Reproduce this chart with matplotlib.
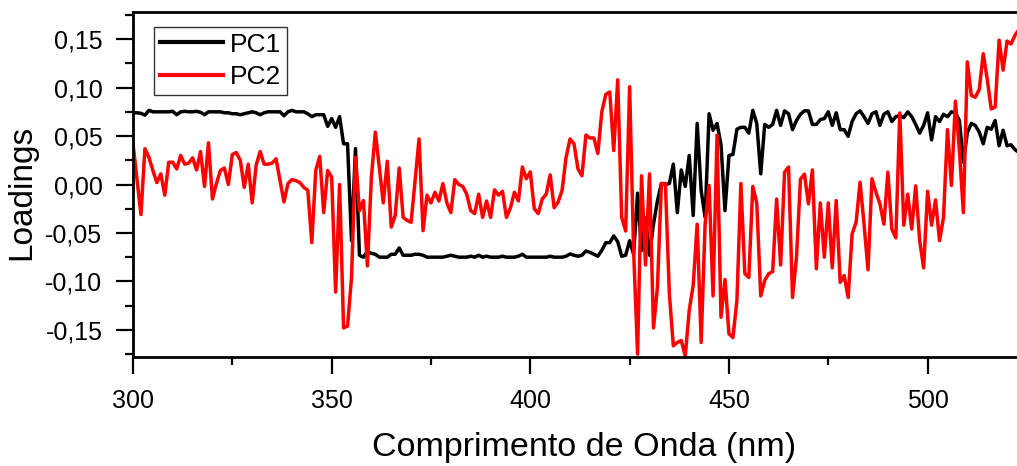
import numpy as np
import matplotlib
matplotlib.use("Agg")
import matplotlib.pyplot as plt
from matplotlib.ticker import MultipleLocator, FuncFormatter

plt.rcParams['font.family'] = ['Liberation Sans', 'DejaVu Sans']

wavelength = np.arange(300, 524)

pc1 = [
    0.074, 0.074, 0.0735, 0.0715, 0.0765, 0.075, 0.075, 0.075, 0.075, 0.075,   # 300-309
    0.0755, 0.072, 0.075, 0.0755, 0.075, 0.075, 0.0755, 0.0745, 0.072, 0.075,  # 310-319
    0.075, 0.075, 0.075, 0.074, 0.074, 0.073, 0.073, 0.072, 0.073, 0.074,      # 320-329
    0.075, 0.074, 0.072, 0.074, 0.075, 0.075, 0.075, 0.075, 0.071, 0.075,      # 330-339
    0.0765, 0.075, 0.075, 0.075, 0.073, 0.070, 0.072, 0.072, 0.072, 0.060,     # 340-349
    0.068, 0.059, 0.070, 0.042, 0.042, -0.058, 0.037, -0.073, -0.075, -0.069,  # 350-359
    -0.071, -0.072, -0.075, -0.075, -0.075, -0.072, -0.072, -0.0655, -0.073, -0.073,  # 360-369
    -0.073, -0.072, -0.072, -0.073, -0.075, -0.075, -0.075, -0.075, -0.075, -0.074,   # 370-379
    -0.073, -0.074, -0.075, -0.075, -0.075, -0.074, -0.075, -0.073, -0.075, -0.074,   # 380-389
    -0.075, -0.075, -0.075, -0.074, -0.075, -0.075, -0.075, -0.074, -0.072, -0.075,   # 390-399
    -0.075, -0.075, -0.075, -0.075, -0.075, -0.074, -0.075, -0.075, -0.075, -0.074,   # 400-409
    -0.0717, -0.073, -0.074, -0.073, -0.0686, -0.070, -0.072, -0.074, -0.068, -0.060, # 410-419
    -0.060, -0.053, -0.059, -0.074, -0.073, -0.058, -0.072, -0.009, -0.068, -0.034,   # 420-429
    -0.073, -0.041, -0.017, 0.001, 0.000, 0.001, 0.021, -0.029, 0.015, -0.002,        # 430-439
    0.030, -0.032, 0.063, -0.006, -0.034, 0.073, 0.056, 0.063, 0.041, -0.027,         # 440-449
    0.030, 0.031, 0.057, 0.059, 0.059, 0.053, 0.0765, 0.063, 0.011, 0.062,            # 450-459
    0.059, 0.062, 0.0765, 0.061, 0.076, 0.073, 0.0566, 0.066, 0.0725, 0.076,          # 460-469
    0.076, 0.062, 0.062, 0.067, 0.068, 0.075, 0.061, 0.074, 0.0566, 0.0566,           # 470-479
    0.0497, 0.065, 0.073, 0.076, 0.070, 0.063, 0.073, 0.075, 0.061, 0.0725,           # 480-489
    0.075, 0.065, 0.070, 0.071, 0.069, 0.075, 0.070, 0.062, 0.053, 0.061,             # 490-499
    0.074, 0.046, 0.070, 0.065, 0.0725, 0.070, 0.075, 0.074, 0.066, 0.023,            # 500-509
    0.0535, 0.063, 0.061, 0.054, 0.042, 0.059, 0.057, 0.066, 0.040, 0.056,            # 510-519
    0.040, 0.041, 0.036, 0.033,                                                       # 520-523
]

pc2 = [
    0.042, 0.005, -0.031, 0.037, 0.028, 0.0145, 0.002, 0.011, -0.011, 0.023,    # 300-309
    0.023, 0.016, 0.030, 0.021, 0.022, 0.0275, 0.015, 0.034, -0.002, 0.043,     # 310-319
    -0.015, 0.001, 0.0145, 0.017, 0.000, 0.031, 0.033, 0.025, -0.003, 0.021,    # 320-329
    -0.019, 0.020, 0.034, 0.021, 0.021, 0.022, 0.0265, 0.004, -0.018, 0.001,    # 330-339
    0.005, 0.004, 0.002, -0.003, -0.006, -0.060, 0.0145, 0.029, -0.029, 0.0145, # 340-349
    0.0076, -0.111, 0.000, -0.148, -0.146, -0.096, 0.028, -0.027, -0.0166, -0.084,  # 350-359
    0.0076, 0.054, 0.018, -0.019, 0.024, -0.044, -0.032, 0.017, -0.034, -0.037,     # 360-369
    -0.039, 0.004, 0.047, -0.0476, -0.011, -0.019, -0.008, -0.017, 0.001, -0.019,   # 370-379
    -0.029, 0.005, 0.000, -0.002, -0.010, -0.027, -0.030, -0.010, -0.034, -0.017,   # 380-389
    -0.034, -0.0055, -0.011, -0.007, -0.034, -0.024, -0.008, -0.017, 0.018, 0.006,  # 390-399
    0.013, -0.025, -0.030, -0.015, -0.010, 0.010, -0.024, -0.018, -0.006, 0.028,    # 400-409
    0.047, 0.042, 0.016, 0.009, 0.051, 0.048, 0.048, 0.032, 0.075, 0.093,          # 410-419
    0.0955, 0.035, 0.108, -0.034, -0.048, 0.101, -0.068, -0.175, 0.009, -0.083,     # 420-429
    0.011, -0.148, -0.106, 0.001, 0.001, -0.113, -0.1665, -0.163, -0.161, -0.177,   # 430-439
    -0.130, -0.104, -0.041, -0.163, -0.041, -0.001, -0.115, 0.051, -0.137, -0.098,  # 440-449
    -0.154, -0.158, -0.120, 0.001, -0.092, -0.096, -0.002, -0.019, -0.115, -0.099,  # 450-459
    -0.092, -0.090, -0.015, -0.083, 0.0127, 0.018, -0.1166, -0.075, 0.0055, 0.0107, # 460-469
    -0.020, 0.015, -0.087, -0.019, -0.075, -0.019, -0.086, -0.0166, -0.101, -0.094, # 470-479
    -0.1166, -0.051, -0.039, 0.0024, -0.041, -0.088, 0.006, -0.008, -0.020, -0.041, # 480-489
    0.0127, -0.046, -0.055, 0.0738, -0.042, -0.010, -0.046, -0.0014, -0.058, -0.086,# 490-499
    -0.007, -0.042, -0.016, -0.058, -0.034, 0.0566, -0.001, 0.086, 0.035, -0.029,   # 500-509
    0.1265, 0.092, 0.090, 0.098, 0.135, 0.109, 0.078, 0.080, 0.149, 0.118,          # 510-519
    0.148, 0.145, 0.154, 0.160,                                                     # 520-523
]

series_labels = ["PC1", "PC2"]
x_label = "Comprimento de Onda (nm)"
y_label = "Loadings"

W, H = 1017, 466
fig = plt.figure(figsize=(W / 100, H / 100), dpi=100)
ax = fig.add_axes([133 / W, (H - 357) / H, (W - 133) / W, 345 / H])

ax.plot(wavelength, pc1, color="black", lw=2.5, label=series_labels[0])
ax.plot(wavelength, pc2, color="#ff0000", lw=2.5, label=series_labels[1])

ax.set_xlim(300, 522.5)
ax.set_ylim(-0.178, 0.178)

ax.xaxis.set_major_locator(MultipleLocator(50))
ax.xaxis.set_minor_locator(MultipleLocator(25))
ax.yaxis.set_major_locator(MultipleLocator(0.05))
ax.yaxis.set_minor_locator(MultipleLocator(0.025))
ax.yaxis.set_major_formatter(FuncFormatter(lambda v, p: f"{v:.2f}".replace(".", ",").replace("-0,00", "0,00")))

ax.tick_params(which="major", direction="out", length=12, width=1.6, labelsize=18)
ax.tick_params(axis="x", which="major", pad=11)
ax.tick_params(axis="y", which="major", pad=10)
ax.tick_params(which="minor", direction="out", length=6, width=1.6)
ax.tick_params(top=False, right=False)

for s in ["left", "bottom", "top"]:
    ax.spines[s].set_linewidth(2.0)
ax.spines["right"].set_visible(False)

ax.set_xlabel(x_label, fontsize=24.5, labelpad=14)
ax.set_ylabel(y_label, fontsize=24, labelpad=5.5)
ax.xaxis.label.set_x(0.510)
ax.yaxis.label.set_y(0.478)

leg = ax.legend(loc="upper left", bbox_to_anchor=(0.0238, 0.957), borderaxespad=0,
                fontsize=19, frameon=True, fancybox=False, edgecolor="black",
                handlelength=2.4, handletextpad=0.25, borderpad=0.22, labelspacing=0.33)
leg.get_frame().set_linewidth(1.0)
for line in leg.get_lines():
    line.set_linewidth(3.0)

fig.savefig("out.png", dpi=100)
